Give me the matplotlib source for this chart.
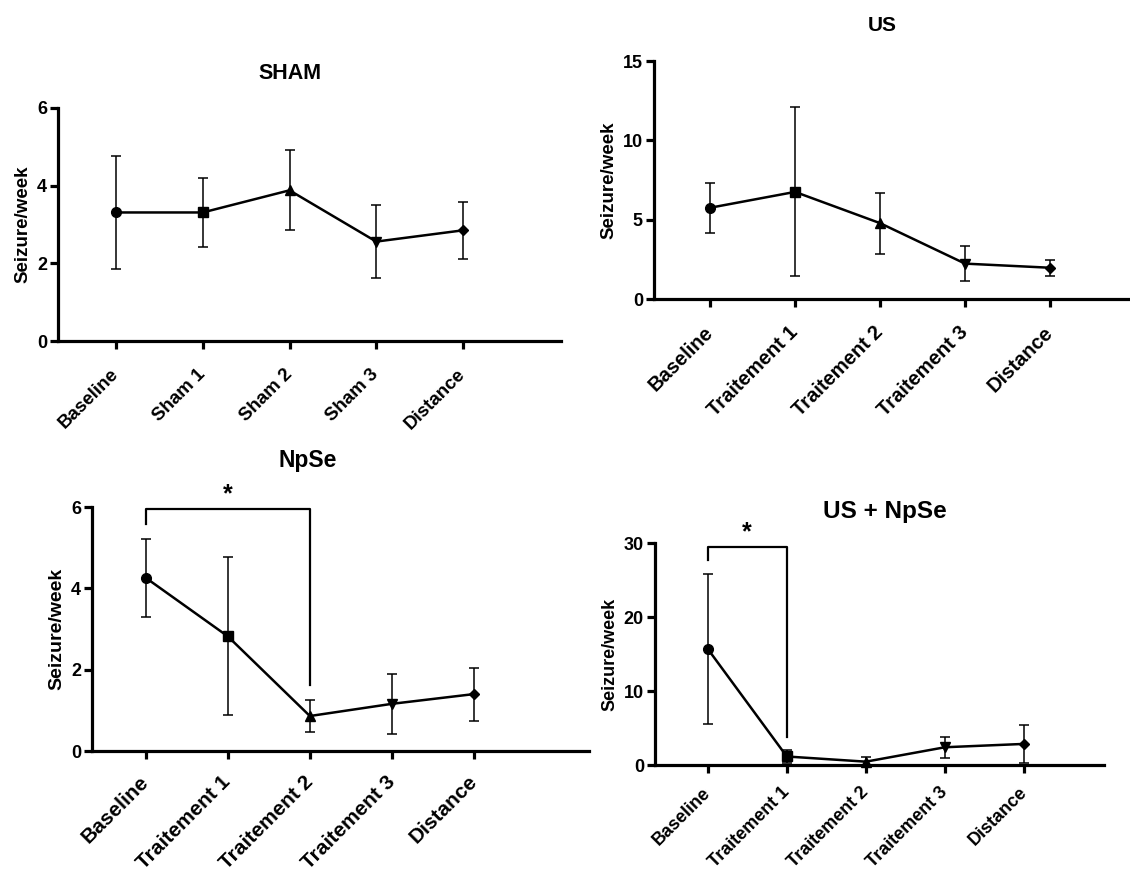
import matplotlib
matplotlib.use("Agg")
import matplotlib.pyplot as plt

plt.rcParams['font.family'] = ['Liberation Sans', 'DejaVu Sans']
plt.rcParams['font.weight'] = 'bold'

# Donnees (moyenne et SEM)
sham_labels = ["Baseline", "Sham 1", "Sham 2", "Sham 3", "Distance"]
trt_labels = ["Baseline", "Traitement 1", "Traitement 2", "Traitement 3", "Distance"]

sham_mean = [3.31, 3.31, 3.88, 2.56, 2.85]
sham_err = [1.46, 0.88, 1.03, 0.95, 0.74]

us_mean = [5.75, 6.75, 4.78, 2.23, 1.97]
us_err = [1.57, 5.32, 1.92, 1.09, 0.50]

npse_mean = [4.26, 2.82, 0.86, 1.16, 1.40]
npse_err = [0.96, 1.94, 0.40, 0.74, 0.65]

usnpse_mean = [15.7, 1.15, 0.45, 2.4, 2.85]
usnpse_err = [10.1, 0.85, 0.65, 1.4, 2.6]

markers = ['o', 's', '^', 'v', 'D']

W, H = 1130, 874


def rect(x0, x1, ytop, ybot):
    return [x0 / W, 1 - ybot / H, (x1 - x0) / W, (ybot - ytop) / H]


def panneau(fig, pos, labels, moy, err, titre, ymax, yticks, xlim,
            fs_x, fs_y, fs_lab, fs_titre, titre_xy, pad_x=16):
    ax = fig.add_axes(pos)
    x = list(range(len(moy)))
    ax.errorbar(x, moy, yerr=err, fmt='none', ecolor='black', elinewidth=1.1,
                capsize=3.3, capthick=1.1, clip_on=False, zorder=2)
    ax.plot(x, moy, color='black', lw=1.8, zorder=3, clip_on=False)
    for xi, yi, m in zip(x, moy, markers):
        ms = 7 if m in ('o', 's') else 6.5
        if m == 'D':
            ms = 5
        ax.plot(xi, yi, marker=m, color='black', ms=ms, zorder=4, clip_on=False)
    ax.set_xlim(*xlim)
    ax.set_ylim(0, ymax)
    ax.set_yticks(yticks)
    ax.set_xticks(x)
    ax.set_xticklabels(labels, rotation=45, ha='right', va='center',
                       rotation_mode='anchor', fontsize=fs_x, fontweight='bold')
    for t in ax.get_yticklabels():
        t.set_fontsize(fs_y)
        t.set_fontweight('bold')
    ax.spines['top'].set_visible(False)
    ax.spines['right'].set_visible(False)
    ax.spines['left'].set_linewidth(2.3)
    ax.spines['bottom'].set_linewidth(2.3)
    ax.tick_params(axis='x', length=6, width=2.3, pad=pad_x)
    ax.tick_params(axis='y', length=6, width=2.3, pad=2)
    ax.set_ylabel("Seizure/week", fontsize=fs_lab, fontweight='bold', labelpad=4)
    ax.text(titre_xy[0], titre_xy[1], titre, transform=ax.transAxes,
            ha='center', va='center', fontsize=fs_titre, fontweight='bold')
    ax.patch.set_alpha(0)
    return ax


def crochet(ax, x1, x2, ytop, yg, yd, ystar):
    ax.plot([x1, x1, x2, x2], [yg, ytop, ytop, yd], color='black', lw=1.6,
            clip_on=False, zorder=1)
    ax.text((x1 + x2) / 2, ystar, "*", ha='center', va='center',
            fontsize=18, fontweight='bold')


fig = plt.figure(figsize=(11.3, 8.74), dpi=100)

panneau(fig, rect(58, 561, 108, 341), sham_labels, sham_mean, sham_err,
        "SHAM", 6, [0, 2, 4, 6], (-0.669, 5.13), 13.5, 13, 13.5, 15.5, (0.461, 1.15))

panneau(fig, rect(654, 1130, 61, 299), trt_labels, us_mean, us_err,
        "US", 15, [0, 5, 10, 15], (-0.659, 4.94), 14.5, 13, 13.5, 15, (0.479, 1.15))

ax3 = panneau(fig, rect(92, 589, 507, 751), trt_labels, npse_mean, npse_err,
              "NpSe", 6, [0, 2, 4, 6], (-0.654, 5.40), 15, 13, 14, 16.5, (0.433, 1.19),
              pad_x=14)
crochet(ax3, 0, 2, 5.94, 5.59, 1.62, 6.32)

ax4 = panneau(fig, rect(655, 1104, 543, 765), trt_labels, usnpse_mean, usnpse_err,
              "US + NpSe", 30, [0, 10, 20, 30], (-0.666, 5.01), 13, 13, 13, 17.5, (0.512, 1.14),
              pad_x=12)
crochet(ax4, 0, 1, 29.4, 27.7, 3.8, 31.4)

fig.savefig("out.png", dpi=100, facecolor='white')
